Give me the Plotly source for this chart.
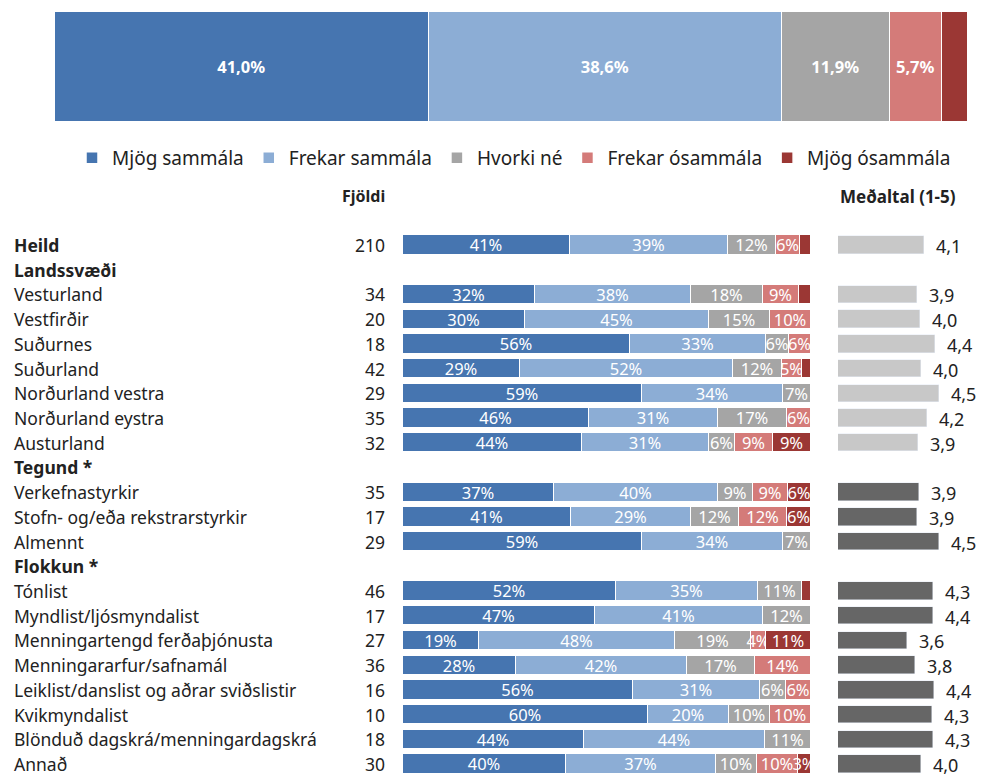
import plotly.graph_objects as go

W, H = 982, 776

# ---------------- data ----------------
categories = ["Mjög sammála", "Frekar sammála", "Hvorki né", "Frekar ósammála", "Mjög ósammála"]
total_pct = [41.0, 38.6, 11.9, 5.7, 2.8]

row_labels = ["Heild", "Landssvæði", "Vesturland", "Vestfirðir", "Suðurnes", "Suðurland",
              "Norðurland vestra", "Norðurland eystra", "Austurland", "Tegund *",
              "Verkefnastyrkir", "Stofn- og/eða rekstrarstyrkir", "Almennt", "Flokkun *",
              "Tónlist", "Myndlist/ljósmyndalist", "Menningartengd ferðaþjónusta",
              "Menningararfur/safnamál", "Leiklist/danslist og aðrar sviðslistir",
              "Kvikmyndalist", "Blönduð dagskrá/menningardagskrá", "Annað"]
bold_rows = ["Heild", "Landssvæði", "Tegund *", "Flokkun *"]
row_n = [210, None, 34, 20, 18, 42, 29, 35, 32, None, 35, 17, 29, None, 46, 17, 27, 36, 16, 10, 18, 30]

mjog_sammala = [41.0, None, 32.4, 30.0, 55.6, 28.6, 58.62, 45.7, 43.75, None, 37.1, 41.2, 58.62, None,
                52.2, 47.1, 18.52, 27.8, 56.25, 60.0, 44.4, 40.0]
frekar_sammala = [38.6, None, 38.2, 45.0, 33.3, 52.4, 34.48, 31.4, 31.25, None, 40.0, 29.4, 34.48, None,
                  34.8, 41.2, 48.15, 41.7, 31.25, 20.0, 44.4, 36.7]
hvorki = [11.9, None, 17.6, 15.0, 5.6, 11.9, 6.9, 17.1, 6.25, None, 8.6, 11.8, 6.9, None,
          10.9, 11.8, 18.52, 16.7, 6.25, 10.0, 11.1, 10.0]
frekar_osammala = [5.7, None, 8.8, 10.0, 5.6, 4.8, 0, 5.7, 9.38, None, 8.6, 11.8, 0, None,
                   0, 0, 3.7, 13.9, 6.25, 10.0, 0, 10.0]
mjog_osammala = [2.8, None, 2.9, 0, 0, 2.4, 0, 0, 9.38, None, 5.7, 5.9, 0, None,
                 2.2, 0, 11.11, 0, 0, 0, 0, 3.3]
means = [4.09, None, 3.88, 3.95, 4.39, 4.00, 4.52, 4.17, 3.91, None, 3.94, 3.88, 4.52, None,
         4.348, 4.353, 3.59, 3.83, 4.38, 4.30, 4.33, 4.00]

series = [mjog_sammala, frekar_sammala, hvorki, frekar_osammala, mjog_osammala]

# ---------------- style ----------------
colors = ["#4675b0", "#8cadd5", "#a5a5a5", "#d47b79", "#9b3734"]
FONT = "Noto Sans"
TXT = "#222222"


def fx(px):
    return px / W


def fy(py):
    return 1 - py / H


def pct_label(v):
    if v is None or v < 3:
        return ""
    return f"{int(v + 0.5)}%"


def dec_comma(v, nd=1):
    return f"{v:.{nd}f}".replace(".", ",")


fig = go.Figure()

# top total bar (with legend)
for name, val, col in zip(categories, total_pct, colors):
    fig.add_trace(go.Bar(
        x=[val], y=[0], orientation="h", name=name, width=1,
        marker=dict(color=col, line=dict(color="white", width=1.5)),
        text=[dec_comma(val) + "%" if val >= 3 else ""],
        textposition="inside", insidetextanchor="middle", textangle=0,
        constraintext="none",
        textfont=dict(family=FONT, size=16, color="white", weight=700),
        xaxis="x3", yaxis="y3", showlegend=True, hoverinfo="skip",
    ))

# main stacked bars
for name, vals, col in zip(categories, series, colors):
    fig.add_trace(go.Bar(
        x=vals, y=row_labels, orientation="h", name=name, width=0.78,
        marker=dict(color=col, line=dict(color="white", width=1)),
        text=[pct_label(v) for v in vals],
        textposition="inside", insidetextanchor="middle", textangle=0,
        constraintext="none",
        textfont=dict(family=FONT, size=16.5, color="white"),
        xaxis="x", yaxis="y", showlegend=False, hoverinfo="skip",
    ))

# mean bars
split = row_labels.index("Tegund *")
mean_colors = ["#c8c8c8" if i < split else "#666666" for i in range(len(row_labels))]
fig.add_trace(go.Bar(
    x=means, y=row_labels, orientation="h", width=0.7,
    marker=dict(color=mean_colors),
    xaxis="x2", yaxis="y", showlegend=False, hoverinfo="skip",
))

annotations = []
for lab, m in zip(row_labels, means):
    if m is not None:
        annotations.append(dict(x=m, xref="x2", y=lab, yref="y", text=dec_comma(m),
                                xanchor="left", yanchor="middle", xshift=10, yshift=-1,
                                showarrow=False, font=dict(family=FONT, size=18, color=TXT)))

for lab, n in zip(row_labels, row_n):
    txt = f"<b>{lab}</b>" if lab in bold_rows else lab
    annotations.append(dict(x=fx(12), xref="paper", y=lab, yref="y", text=txt,
                            xanchor="left", yanchor="middle", showarrow=False,
                            font=dict(family=FONT, size=17.5, color=TXT)))
    if n is not None:
        annotations.append(dict(x=fx(387), xref="paper", y=lab, yref="y", text=str(n),
                                xanchor="right", yanchor="middle", showarrow=False,
                                font=dict(family=FONT, size=17.5, color=TXT)))

annotations.append(dict(x=fx(387), xref="paper", y=fy(196), yref="paper", text="<b>Fjöldi</b>",
                        xanchor="right", yanchor="middle", showarrow=False,
                        font=dict(family=FONT, size=16, color=TXT)))
annotations.append(dict(x=fx(838), xref="paper", y=fy(196), yref="paper", text="<b>Meðaltal (1-5)</b>",
                        xanchor="left", yanchor="middle", showarrow=False,
                        font=dict(family=FONT, size=17, color=TXT)))

first_px, last_px = 245, 764
s = (last_px - first_px) / (len(row_labels) - 1)  # row pitch in px
y_top = (180 - first_px) / s
y_bot = (776 - first_px) / s

fig.update_layout(
    width=W, height=H, autosize=False,
    margin=dict(l=0, r=0, t=0, b=0),
    paper_bgcolor="white", plot_bgcolor="white",
    barmode="stack", bargap=0,
    uniformtext=dict(minsize=16.5, mode="show"),
    font=dict(family=FONT, color=TXT),
    showlegend=True,
    legend=dict(orientation="h", x=fx(72), xanchor="left", y=fy(158), yanchor="middle",
                font=dict(family=FONT, size=19, color=TXT), itemwidth=30,
                bgcolor="rgba(0,0,0,0)", traceorder="normal"),
    xaxis=dict(domain=[fx(403), fx(811)], range=[0, 100], visible=False, anchor="y", fixedrange=True),
    yaxis=dict(domain=[0, fy(180)], type="category", categoryorder="array", categoryarray=row_labels,
               range=[y_bot, y_top], visible=False, anchor="x", fixedrange=True),
    xaxis2=dict(domain=[fx(838), 1.0], range=[1.58, 1.58 + (W - 838) / 34.4], visible=False,
                anchor="y", fixedrange=True),
    xaxis3=dict(domain=[fx(55), fx(968)], range=[0, 100], visible=False, anchor="y3", fixedrange=True),
    yaxis3=dict(domain=[fy(122), fy(12)], range=[-0.5, 0.5], visible=False, anchor="x3", fixedrange=True),
    annotations=annotations,
)

fig.write_html("out.html", config={"displayModeBar": False},
               post_script="document.body.style.margin='0';")
